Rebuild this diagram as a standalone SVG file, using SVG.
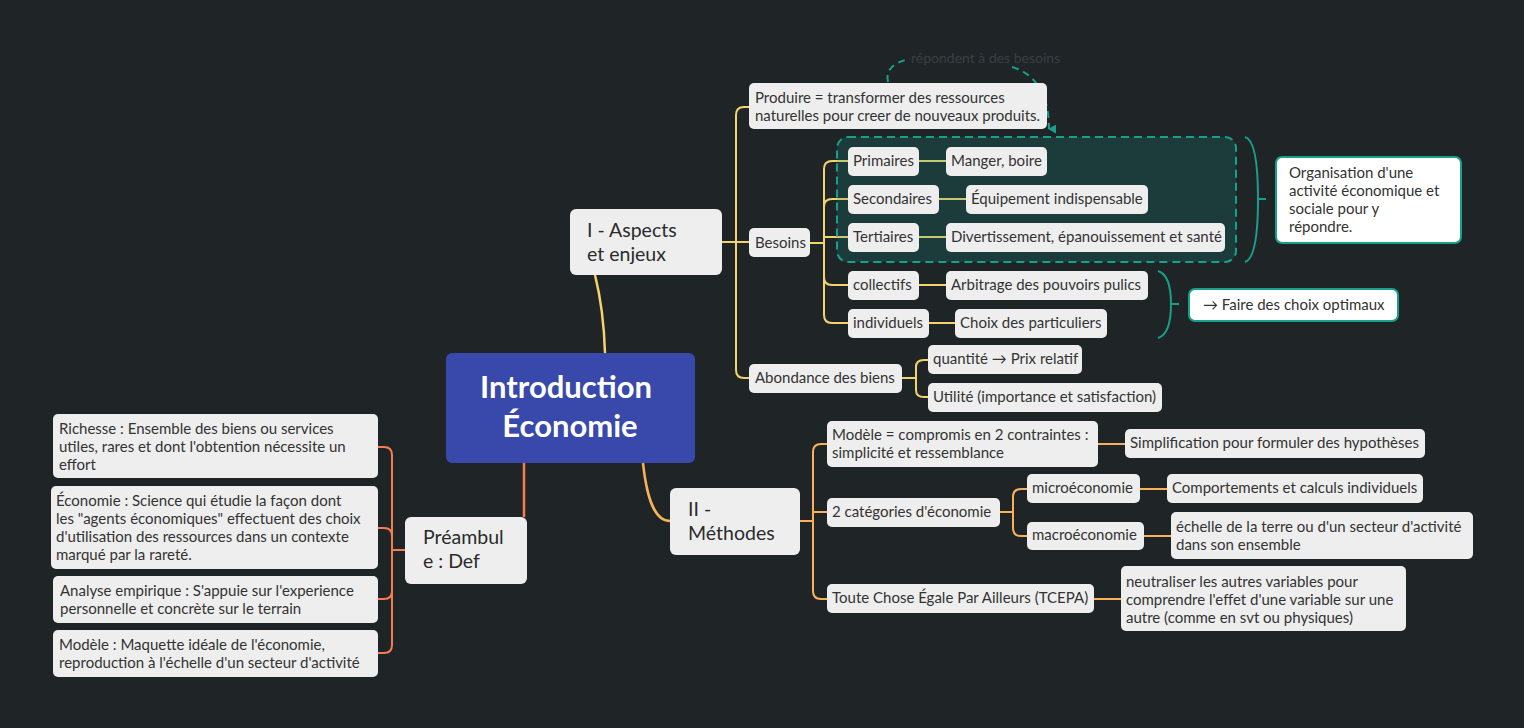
<svg xmlns="http://www.w3.org/2000/svg" width="1524" height="728" viewBox="0 0 1524 728">
<defs>
<style>
.bg{fill:#1f2427}
.leaf{fill:#eeeeee}
.t{font-family:Lato,"Noto Sans","Liberation Sans",sans-serif;font-size:15px;fill:#333333}
.t1{font-family:Lato,"Noto Sans","Liberation Sans",sans-serif;font-size:19.5px;fill:#2b2b2b}
.tc{font-family:Lato,"Noto Sans","Liberation Sans",sans-serif;font-size:31px;font-weight:bold;fill:#ffffff}
.y{fill:none;stroke:#f3d36b;stroke-width:2}
.o{fill:none;stroke:#f9b25a;stroke-width:2}
.r{fill:none;stroke:#f77c4f;stroke-width:2}
.teal{fill:none;stroke:#17a08b;stroke-width:2}
.sum{fill:#ffffff;stroke:#17a08b;stroke-width:2}
</style>
<marker id="ah" viewBox="0 0 10 10" refX="5" refY="8" markerWidth="9" markerHeight="9" orient="auto" markerUnits="userSpaceOnUse">
<path d="M0,0 L10,0 L5,9 z" fill="#17a08b"/>
</marker>
</defs>
<rect class="bg" x="0" y="0" width="1524" height="728"/>

<g id="connectors">
<path style="fill:none;stroke:#f3d36b;stroke-width:2.5" d="M605 353 C604 320 600 295 595 275"/>
<path style="fill:none;stroke:#f9b25a;stroke-width:2.5" d="M643 463 C647 500 655 521 670 521"/>
<path style="fill:none;stroke:#f77c4f;stroke-width:2.5" d="M524 463 L524 517"/>
<path class="y" d="M722 242 L736 242"/>
<path class="y" d="M736 242 L736 115 Q736 107 744 107 L749 107"/>
<path class="y" d="M736 242 L749 242"/>
<path class="y" d="M736 242 L736 370 Q736 378 744 378 L749 378"/>
<path class="y" d="M810 243 L824 243"/>
<path class="y" d="M824 243 L824 169 Q824 161 832 161 L848 161"/>
<path class="y" d="M824 243 L824 207 Q824 199 832 199 L848 199"/>
<path class="y" d="M824 243 L824 237 L848 237"/>
<path class="y" d="M824 243 L824 277 Q824 285 832 285 L848 285"/>
<path class="y" d="M824 243 L824 315 Q824 323 832 323 L848 323"/>
<path class="y" d="M919 161 L946 161"/>
<path class="y" d="M939 199 L966 199"/>
<path class="y" d="M919 237 L946 237"/>
<path class="y" d="M919 285 L946 285"/>
<path class="y" d="M929 323 L955 323"/>
<path class="y" d="M902 378 L916 378"/>
<path class="y" d="M916 378 L916 367 Q916 360 924 360 L928 360"/>
<path class="y" d="M916 378 L916 390 Q916 397 924 397 L928 397"/>
<path class="o" d="M800 521 L813 521"/>
<path class="o" d="M813 521 L813 452 Q813 444 821 444 L827 444"/>
<path class="o" d="M813 521 L813 512 L827 512"/>
<path class="o" d="M813 521 L813 591 Q813 599 821 599 L827 599"/>
<path class="o" d="M1098 444 L1125 444"/>
<path class="o" d="M1000 512 L1013 512"/>
<path class="o" d="M1013 512 L1013 497 Q1013 489 1021 489 L1027 489"/>
<path class="o" d="M1013 512 L1013 528 Q1013 536 1021 536 L1027 536"/>
<path class="o" d="M1140 489 L1167 489"/>
<path class="o" d="M1144 536 L1171 536"/>
<path class="o" d="M1094 599 L1121 599"/>
<path class="r" d="M405 550 L392 550"/>
<path class="r" d="M392 550 L392 455 Q392 447 384 447 L378 447"/>
<path class="r" d="M392 550 L392 536 Q392 528 384 528 L378 528"/>
<path class="r" d="M392 550 L392 591 Q392 599 384 599 L378 599"/>
<path class="r" d="M392 550 L392 645 Q392 653 384 653 L378 653"/>
</g>

<g id="boundary">
<rect x="837" y="137" width="399" height="125" rx="11" fill="#13a090" fill-opacity="0.2" stroke="#17a08b" stroke-width="2" stroke-dasharray="8 5"/>
</g>

<g id="relationship">
<path d="M888 82 C885 70 894 62 910 59" fill="none" stroke="#17a08b" stroke-width="2" stroke-dasharray="7 5"/>
<path d="M1012 67 C1036 74 1049 95 1049 129" fill="none" stroke="#17a08b" stroke-width="2" stroke-dasharray="7 5" marker-end="url(#ah)"/>
<text x="911" y="63" style="font-family:Lato,'Noto Sans','Liberation Sans',sans-serif;font-size:14px;fill:#3a3f44">répondent à des besoins</text>
</g>

<g id="summaries">
<path class="teal" d="M1245 137 Q1258 140 1258 199 Q1258 258 1245 262"/>
<path class="teal" d="M1258 199 L1266 199"/>
<path class="teal" d="M1158 271 Q1171 275 1171 304 Q1171 334 1158 338"/>
<path class="teal" d="M1171 304 L1179 304"/>
</g>

<g id="n-central">
<rect x="446" y="353" width="249" height="110" rx="6" fill="#3949ab"/>
<text class="tc" x="566" y="398" text-anchor="middle">Introduction</text>
<text class="tc" x="570" y="437" text-anchor="middle">Économie</text>
</g>

<g id="n-aspects">
<rect class="leaf" x="570" y="209" width="152" height="66" rx="6"/>
<text class="t1" x="587" y="237">I - Aspects</text>
<text class="t1" x="587" y="261">et enjeux</text>
</g>
<g id="n-methodes">
<rect class="leaf" x="670" y="488" width="130" height="67" rx="6"/>
<text class="t1" x="688" y="516">II -</text>
<text class="t1" x="688" y="540">Méthodes</text>
</g>
<g id="n-preambule">
<rect class="leaf" x="405" y="517" width="122" height="67" rx="6"/>
<text class="t1" x="423" y="544">Préambul</text>
<text class="t1" x="423" y="568">e : Def</text>
</g>

<g id="n-produire">
<rect class="leaf" x="749" y="83" width="298" height="46" rx="5"/>
<text class="t" x="755" y="103">Produire = transformer des ressources</text>
<text class="t" x="755" y="121">naturelles pour creer de nouveaux produits.</text>
</g>
<g id="n-besoins">
<rect class="leaf" x="749" y="228" width="61" height="29" rx="5"/>
<text class="t" x="755" y="248">Besoins</text>
</g>
<g id="n-primaires">
<rect class="leaf" x="848" y="147" width="71" height="29" rx="5"/>
<text class="t" x="853" y="166">Primaires</text>
</g>
<g id="n-manger">
<rect class="leaf" x="946" y="147" width="101" height="29" rx="5"/>
<text class="t" x="951" y="166">Manger, boire</text>
</g>
<g id="n-secondaires">
<rect class="leaf" x="848" y="185" width="91" height="29" rx="5"/>
<text class="t" x="853" y="204">Secondaires</text>
</g>
<g id="n-equipement">
<rect class="leaf" x="966" y="185" width="182" height="29" rx="5"/>
<text class="t" x="971" y="204">Équipement indispensable</text>
</g>
<g id="n-tertiaires">
<rect class="leaf" x="848" y="223" width="71" height="29" rx="5"/>
<text class="t" x="853" y="242">Tertiaires</text>
</g>
<g id="n-divert">
<rect class="leaf" x="946" y="223" width="279" height="29" rx="5"/>
<text class="t" x="951" y="242">Divertissement, épanouissement et santé</text>
</g>
<g id="n-collectifs">
<rect class="leaf" x="848" y="271" width="71" height="29" rx="5"/>
<text class="t" x="853" y="290">collectifs</text>
</g>
<g id="n-arbitrage">
<rect class="leaf" x="946" y="271" width="202" height="29" rx="5"/>
<text class="t" x="951" y="290">Arbitrage des pouvoirs pulics</text>
</g>
<g id="n-individuels">
<rect class="leaf" x="848" y="309" width="81" height="29" rx="5"/>
<text class="t" x="853" y="328">individuels</text>
</g>
<g id="n-choix">
<rect class="leaf" x="955" y="309" width="152" height="29" rx="5"/>
<text class="t" x="960" y="328">Choix des particuliers</text>
</g>
<g id="n-abondance">
<rect class="leaf" x="749" y="364" width="153" height="29" rx="5"/>
<text class="t" x="755" y="383">Abondance des biens</text>
</g>
<g id="n-quantite">
<rect class="leaf" x="928" y="345" width="154" height="29" rx="5"/>
<text class="t" x="933" y="364">quantité → Prix relatif</text>
</g>
<g id="n-utilite">
<rect class="leaf" x="928" y="383" width="234" height="29" rx="5"/>
<text class="t" x="933" y="402">Utilité (importance et satisfaction)</text>
</g>

<g id="n-organisation">
<rect class="sum" x="1276" y="157" width="185" height="86" rx="6"/>
<text class="t" x="1289" y="178">Organisation d'une</text>
<text class="t" x="1289" y="196">activité économique et</text>
<text class="t" x="1289" y="214">sociale pour y</text>
<text class="t" x="1289" y="232">répondre.</text>
</g>
<g id="n-faire">
<rect class="sum" x="1189" y="289" width="209" height="32" rx="6"/>
<text class="t" x="1203" y="310">→ Faire des choix optimaux</text>
</g>

<g id="n-modele">
<rect class="leaf" x="827" y="421" width="271" height="46" rx="5"/>
<text class="t" x="832" y="440">Modèle = compromis en 2 contraintes :</text>
<text class="t" x="832" y="458">simplicité et ressemblance</text>
</g>
<g id="n-simplification">
<rect class="leaf" x="1125" y="429" width="300" height="29" rx="5"/>
<text class="t" x="1130" y="448">Simplification pour formuler des hypothèses</text>
</g>
<g id="n-categories">
<rect class="leaf" x="827" y="498" width="173" height="29" rx="5"/>
<text class="t" x="832" y="517">2 catégories d'économie</text>
</g>
<g id="n-micro">
<rect class="leaf" x="1027" y="474" width="113" height="29" rx="5"/>
<text class="t" x="1032" y="493">microéconomie</text>
</g>
<g id="n-comportements">
<rect class="leaf" x="1167" y="474" width="256" height="29" rx="5"/>
<text class="t" x="1172" y="493">Comportements et calculs individuels</text>
</g>
<g id="n-macro">
<rect class="leaf" x="1027" y="522" width="117" height="28" rx="5"/>
<text class="t" x="1032" y="540">macroéconomie</text>
</g>
<g id="n-echelle">
<rect class="leaf" x="1171" y="512" width="302" height="47" rx="5"/>
<text class="t" x="1176" y="532">échelle de la terre ou d'un secteur d'activité</text>
<text class="t" x="1176" y="550">dans son ensemble</text>
</g>
<g id="n-tcepa">
<rect class="leaf" x="827" y="584" width="267" height="29" rx="5"/>
<text class="t" x="832" y="603">Toute Chose Égale Par Ailleurs (TCEPA)</text>
</g>
<g id="n-neutraliser">
<rect class="leaf" x="1121" y="566" width="285" height="65" rx="5"/>
<text class="t" x="1126" y="587">neutraliser les autres variables pour</text>
<text class="t" x="1126" y="605">comprendre l'effet d'une variable sur une</text>
<text class="t" x="1126" y="623">autre (comme en svt ou physiques)</text>
</g>

<g id="n-richesse">
<rect class="leaf" x="53" y="414" width="325" height="64" rx="5"/>
<text class="t" x="59" y="434">Richesse : Ensemble des biens ou services</text>
<text class="t" x="59" y="452">utiles, rares et dont l'obtention nécessite un</text>
<text class="t" x="59" y="470">effort</text>
</g>
<g id="n-economie">
<rect class="leaf" x="51" y="486" width="327" height="83" rx="5"/>
<text class="t" x="56" y="506">Économie : Science qui étudie la façon dont</text>
<text class="t" x="56" y="524">les "agents économiques" effectuent des choix</text>
<text class="t" x="56" y="542">d'utilisation des ressources dans un contexte</text>
<text class="t" x="56" y="560">marqué par la rareté.</text>
</g>
<g id="n-analyse">
<rect class="leaf" x="53" y="576" width="325" height="47" rx="5"/>
<text class="t" x="60" y="596">Analyse empirique : S'appuie sur l'experience</text>
<text class="t" x="60" y="614">personnelle et concrète sur le terrain</text>
</g>
<g id="n-modele-def">
<rect class="leaf" x="53" y="630" width="325" height="47" rx="5"/>
<text class="t" x="59" y="650">Modèle : Maquette idéale de l'économie,</text>
<text class="t" x="59" y="668">reproduction à l'échelle d'un secteur d'activité</text>
</g>
</svg>
